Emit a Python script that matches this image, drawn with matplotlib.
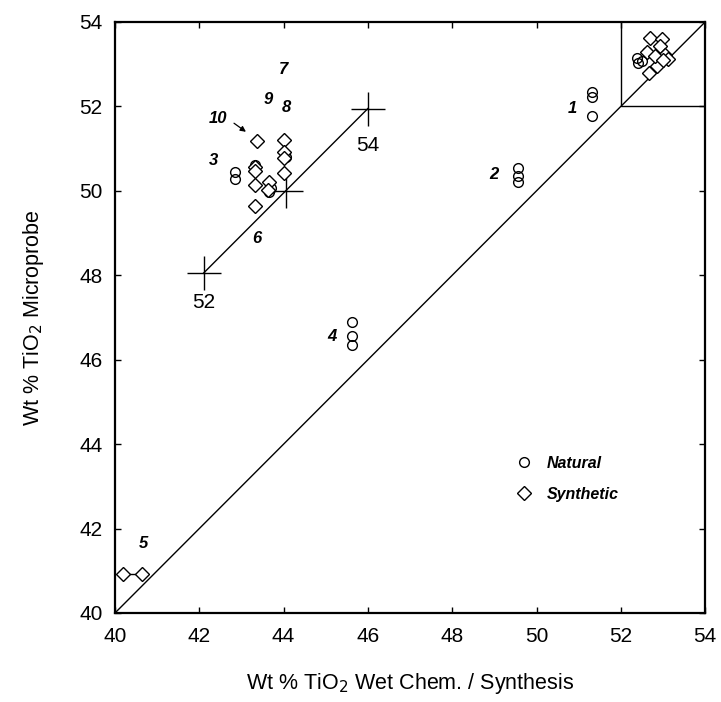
import matplotlib
matplotlib.use("Agg")
import matplotlib.pyplot as plt
import numpy as np

plt.rcParams['font.family'] = ['Liberation Sans', 'DejaVu Sans']

# Natural samples (wet chemistry vs microprobe)
nat_x = [51.31, 51.31, 51.31, 49.57, 49.57, 49.57, 45.62, 45.62, 45.62,
         42.85, 42.85, 43.65, 43.70, 44.05, 43.32,
         52.38, 52.41, 52.62, 52.50]
nat_y = [52.33, 52.22, 51.78, 50.55, 50.36, 50.20, 46.90, 46.57, 46.35,
         50.44, 50.28, 49.97, 50.07, 50.80, 50.62,
         53.15, 53.02, 53.30, 53.08]

# Synthetic samples
syn_x = [43.36, 44.02, 44.02, 44.02, 44.02, 43.32, 43.32, 43.32, 43.66, 43.62, 43.32,
         52.70, 52.97, 52.93, 53.05, 52.85, 52.66, 53.12, 52.62, 52.80, 53.00]
syn_y = [51.17, 51.21, 50.93, 50.78, 50.42, 50.56, 50.46, 50.14, 50.20, 50.02, 49.63,
         53.62, 53.60, 53.42, 53.22, 52.95, 52.80, 53.12, 53.30, 53.20, 53.10]
syn5_x = [40.20, 40.65]
syn5_y = [40.93, 40.93]

# enlarged 1:1 scale bar (values 52 -> 54)
scale_x = [42.10, 44.05, 46.00]
scale_y = [48.05, 50.00, 51.95]
scale_labels = ['52', '54']

# sample labels
lab_txt = ['1', '2', '3', '4', '5', '6', '7', '8', '9', '10']
lab_x = [50.84, 48.98, 42.33, 45.14, 40.67, 43.36, 44.00, 44.06, 43.64, 42.45]
lab_y = [51.96, 50.38, 50.73, 46.55, 41.65, 48.88, 52.87, 51.98, 52.16, 51.72]

ticks = [40, 42, 44, 46, 48, 50, 52, 54]

fig = plt.figure(figsize=(7.21, 7.02), dpi=100)
ax = fig.add_axes([0.1595, 0.1268, 0.8185, 0.8419])

# 1:1 line and top-right box
ax.plot([40, 54], [40, 54], color='black', lw=1.0, zorder=1)
ax.plot([52, 52, 54], [54, 52, 52], color='black', lw=1.0, zorder=1)

# scale bar
ax.plot([scale_x[0], scale_x[-1]], [scale_y[0], scale_y[-1]], color='black', lw=1.0, zorder=1)
ax.plot(scale_x, scale_y, linestyle='none', marker='+', ms=24, mew=1.0, color='black', zorder=2)
ax.text(scale_x[0], scale_y[0] - 0.70, scale_labels[0], ha='center', va='center', fontsize=15)
ax.text(scale_x[-1], scale_y[-1] - 0.88, scale_labels[1], ha='center', va='center', fontsize=15)

ax.plot(nat_x, nat_y, linestyle='none', marker='o', ms=7, mfc='none', mec='black', mew=1.0,
        zorder=3, label='Natural')
ax.plot(syn_x, syn_y, linestyle='none', marker='D', ms=7, mfc='white', mec='black', mew=1.0,
        zorder=4, label='Synthetic')
ax.plot(syn5_x, syn5_y, linestyle='-', lw=1.0, marker='D', ms=7, mfc='white', mec='black',
        color='black', mew=1.0, zorder=4)

for t, x, y in zip(lab_txt, lab_x, lab_y):
    ax.text(x, y, t, ha='center', va='center', fontsize=12, fontweight='bold', style='italic')

ax.annotate('', xy=(43.16, 51.36), xytext=(42.77, 51.64),
            arrowprops=dict(arrowstyle='-|>', color='black', lw=0.9, mutation_scale=8))

ax.set_xlim(40, 54)
ax.set_ylim(40, 54)
ax.set_xticks(ticks)
ax.set_yticks(ticks)
ax.tick_params(direction='in', top=True, right=True, length=4, width=1.0, labelsize=15)
ax.tick_params(axis='x', pad=10)
ax.tick_params(axis='y', pad=9)
for s in ax.spines.values():
    s.set_linewidth(1.6)

ax.set_xlabel('Wt % TiO$_2$ Wet Chem. / Synthesis', fontsize=15.5, labelpad=18)
ax.set_ylabel('Wt % TiO$_2$ Microprobe', fontsize=15.5, labelpad=24)

leg = ax.legend(loc='upper left', bbox_to_anchor=(0.648, 0.29), frameon=False,
                prop=dict(size=11.5, weight='bold', style='italic'), handletextpad=0.7,
                labelspacing=1.0, handlelength=1.5)

fig.savefig('out.png', dpi=100)
